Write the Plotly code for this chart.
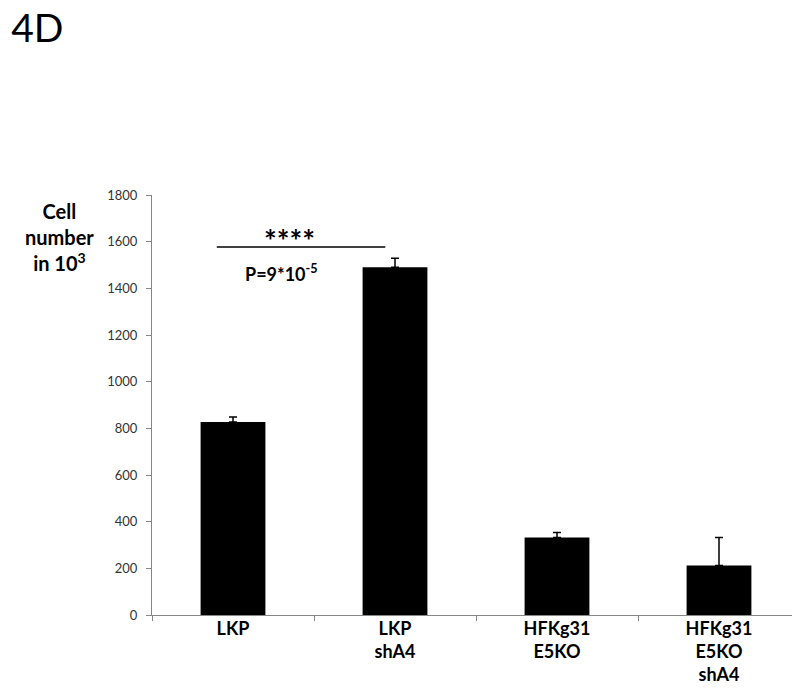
import plotly.graph_objects as go

categories = ["LKP", "LKP<br>shA4", "HFKg31<br>E5KO", "HFKg31<br>E5KO<br>shA4"]
values = [827, 1490, 332, 212]
errors = [22, 39, 22, 120]
y_ticks = list(range(0, 1801, 200))

FONT = "Lato, 'Open Sans', sans-serif"

fig = go.Figure()
fig.add_trace(go.Bar(
    x=categories, y=values,
    marker=dict(color="black", line=dict(width=0)),
    width=0.4,
    error_y=dict(type="data", array=errors, symmetric=False, arrayminus=[0]*4,
                 color="black", thickness=1.5, width=4),
))

# significance bracket
sig_x0, sig_x1, sig_y = -0.1, 0.94, 1577
fig.add_shape(type="line", xref="x", yref="y", x0=sig_x0, x1=sig_x1, y0=sig_y, y1=sig_y,
              line=dict(color="black", width=1.5))
fig.add_annotation(xref="x", yref="y", x=0.35, y=sig_y, yanchor="bottom", yshift=-13,
                   text="<b>****</b>", showarrow=False, font=dict(family=FONT, size=30, color="black"))
fig.add_annotation(xref="x", yref="y", x=0.3, y=1465,
                   text="<b>P=9*10<sup>-5</sup></b>", showarrow=False,
                   font=dict(family=FONT, size=18, color="black"))

fig.add_annotation(xref="paper", yref="paper", x=-0.143, y=0.995, xanchor="center", yanchor="top",
                   text="<b>Cell<br>number<br>in 10<sup>3</sup></b>", showarrow=False, align="center",
                   font=dict(family=FONT, size=20, color="black"))

# page body adds an 8px offset; compensate so the plot sits where the reference has it
fig.update_layout(
    width=792, height=681,
    margin=dict(l=144, r=0, t=187, b=74),
    paper_bgcolor="white", plot_bgcolor="white",
    showlegend=False,
    title=dict(text="4D", x=0.004, xanchor="left", y=0.99, yanchor="top",
               font=dict(family=FONT, size=39, color="black")),
    font=dict(family=FONT),
)
fig.update_xaxes(
    type="category", showline=True, linecolor="#868686", linewidth=1,
    ticks="outside", tickson="boundaries", ticklen=5, tickcolor="#868686",
    ticklabelstandoff=-3,
    tickfont=dict(family=FONT, size=18, color="black"),
    ticktext=["<b>" + c + "</b>" for c in categories], tickvals=categories,
    showgrid=False, zeroline=False, automargin=False,
)
fig.update_yaxes(
    range=[0, 1800], tickvals=y_ticks, showline=True, linecolor="#868686", linewidth=1,
    ticks="outside", ticklen=5, tickcolor="#868686", ticklabelstandoff=6,
    tickfont=dict(family=FONT, size=13, color="#333333"),
    showgrid=False, zeroline=False, automargin=False,
)

fig.write_html("out.html")
